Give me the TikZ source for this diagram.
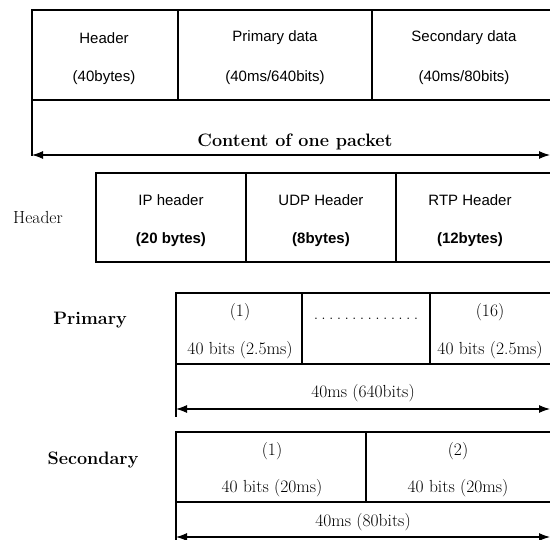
\documentclass[tikz,border=0pt]{standalone}
\usepackage{fontspec}
\setsansfont{Liberation Sans}
\usetikzlibrary{arrows.meta}
\begin{document}
\begin{tikzpicture}[x=1pt,y=-1pt,
  box/.style={line width=2.8pt},
  dim/.style={line width=1.1pt,{Latex[length=11pt,width=8pt]}-{Latex[length=11pt,width=8pt]}},
  sanslbl/.style={font=\sffamily\fontsize{15}{18}\selectfont},
  serlbl/.style={font=\fontsize{17.5}{21}\selectfont},
  rowlbl/.style={font=\bfseries\fontsize{18}{22}\selectfont}]
  \clip (0,0) rectangle (550,540);
  % one packet
  \draw[box] (600,10) -- (32,10) -- (32,156);
  \draw[box] (32,100) -- (600,100);
  \draw[box] (178,10) -- (178,100);
  \draw[box] (372,10) -- (372,100);
  \node[sanslbl] (hd) at (104,38) {Header};
  \node[sanslbl] (hdsz) at (104,78) {(40bytes)};
  \node[sanslbl] (pd) at (275,38) {Primary data};
  \node[sanslbl] (pdsz) at (275,78) {(40ms/640bits)};
  \node[sanslbl] (sd) at (464,38) {Secondary data};
  \node[sanslbl] (sdsz) at (464,78) {(40ms/80bits)};
  \coordinate (pktl) at (32,155);
  \coordinate (pktr) at (550,155);
  \draw[dim] (pktl) -- (pktr);
  \node[rowlbl] (pkt) at (295,142) {Content of one packet};
  % header
  \begin{scope}[shift={(0,163)}]
    \node[serlbl] (hdrow) at (38,55) {Header};
    \draw[box] (600,10) -- (96,10) -- (96,99) -- (600,99);
    \draw[box] (246,10) -- (246,99);
    \draw[box] (396,10) -- (396,99);
    \node[sanslbl] (ip) at (171,37) {IP header};
    \node[sanslbl,font=\sffamily\bfseries\fontsize{15}{18}\selectfont] (ipsz) at (171,77) {(20 bytes)};
    \node[sanslbl] (udp) at (321,37) {UDP Header};
    \node[sanslbl,font=\sffamily\bfseries\fontsize{15}{18}\selectfont] (udpsz) at (321,77) {(8bytes)};
    \node[sanslbl] (rtp) at (470,37) {RTP Header};
    \node[sanslbl,font=\sffamily\bfseries\fontsize{15}{18}\selectfont] (rtpsz) at (470,77) {(12bytes)};
  \end{scope}
  % primary
  \begin{scope}[shift={(0,283)}]
    \node[rowlbl] (prim) at (90,37) {Primary};
    \draw[box] (600,10) -- (176,10) -- (176,81) -- (600,81);
    \draw[box] (302,10) -- (302,81);
    \draw[box] (430,10) -- (430,81);
    \draw[line width=1.1pt] (176,81) -- (176,134);
    \node[serlbl] (p1) at (240,29) {(1)};
    \node[serlbl] (p1sz) at (240,67) {40 bits (2.5ms)};
    \node[serlbl] (pdots) at (366,36) {\makebox[108pt]{\dotfill}};
    \node[serlbl] (p16) at (490,29) {(16)};
    \node[serlbl] (p16sz) at (490,67) {40 bits (2.5ms)};
    \coordinate (priml) at (176,126);
    \coordinate (primr) at (550,126);
    \draw[dim] (priml) -- (primr);
    \node[serlbl] (primsz) at (363,110) {40ms (640bits)};
  \end{scope}
  % secondary
  \begin{scope}[shift={(0,422)}]
    \node[rowlbl] (sec) at (93,38) {Secondary};
    \draw[box] (600,10) -- (176,10) -- (176,80) -- (600,80);
    \draw[box] (366,10) -- (366,80);
    \draw[line width=1.1pt] (176,80) -- (176,125);
    \node[serlbl] (s1) at (272,29) {(1)};
    \node[serlbl] (s1sz) at (272,66) {40 bits (20ms)};
    \node[serlbl] (s2) at (458,29) {(2)};
    \node[serlbl] (s2sz) at (458,66) {40 bits (20ms)};
    \coordinate (secl) at (176,115);
    \coordinate (secr) at (550,115);
    \draw[dim] (secl) -- (secr);
    \node[serlbl] (secsz) at (363,100) {40ms (80bits)};
  \end{scope}
\end{tikzpicture}
\end{document}
